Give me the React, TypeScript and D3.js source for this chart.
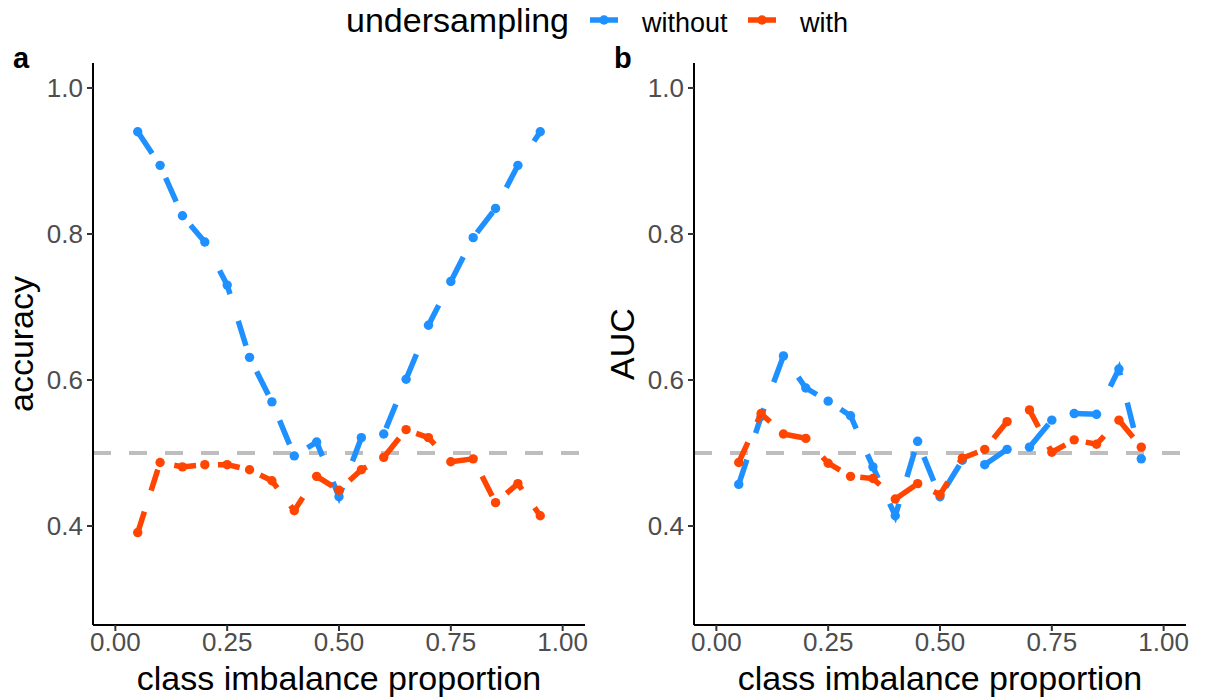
import React from "react";
import * as d3 from "d3";

const proportions = [0.05, 0.1, 0.15, 0.2, 0.25, 0.3, 0.35, 0.4, 0.45, 0.5, 0.55, 0.6, 0.65, 0.7, 0.75, 0.8, 0.85, 0.9, 0.95];

const accWithout = [0.94, 0.894, 0.825, 0.789, 0.73, 0.631, 0.57, 0.496, 0.515, 0.44, 0.521, 0.526, 0.601, 0.675, 0.735, 0.795, 0.835, 0.894, 0.94];
const accWith = [0.391, 0.487, 0.481, 0.484, 0.484, 0.477, 0.462, 0.421, 0.468, 0.449, 0.477, 0.494, 0.532, 0.521, 0.488, 0.492, 0.432, 0.458, 0.414];

const aucWithout = [0.457, 0.55, 0.633, 0.589, 0.571, 0.551, 0.481, 0.414, 0.516, 0.44, 0.49, 0.484, 0.505, 0.508, 0.545, 0.554, 0.553, 0.615, 0.492];
const aucWith = [0.487, 0.554, 0.526, 0.52, 0.486, 0.468, 0.465, 0.437, 0.458, 0.443, 0.493, 0.505, 0.543, 0.559, 0.501, 0.518, 0.512, 0.545, 0.508];

const xTicks = [0, 0.25, 0.5, 0.75, 1.0];
const xTickLabels = ["0.00", "0.25", "0.50", "0.75", "1.00"];
const yTicks = [0.4, 0.6, 0.8, 1.0];
const yTickLabels = ["0.4", "0.6", "0.8", "1.0"];

const seriesNames = ["without", "with"];
const seriesColors = ["#1E90FF", "#FF4500"];
const seriesDash = ["26 28", "22 22"];

const FONT = "'Liberation Sans', Arial, Helvetica, sans-serif";

type PanelProps = {
  left: number;
  label: string;
  yTitle: string;
  without: number[];
  withU: number[];
};

const TOP = 63;
const BOTTOM = 625;
const WIDTH = 492;

function Panel({ left, label, yTitle, without, withU }: PanelProps) {
  const x = d3.scaleLinear().domain([-0.05, 1.05]).range([left, left + WIDTH]);
  const y = d3.scaleLinear().domain([0.2644, 1.0342]).range([BOTTOM, TOP]);
  const line = d3
    .line<[number, number]>()
    .x((d) => x(d[0]))
    .y((d) => y(d[1]));
  const series = [without, withU];
  return (
    <g>
      <line
        x1={left}
        x2={left + WIDTH}
        y1={y(0.5)}
        y2={y(0.5)}
        stroke="#BEBEBE"
        strokeWidth={4}
        strokeDasharray="18 18"
      />
      {series.map((vals, si) => {
        const pts = proportions.map((p, i) => [p, vals[i]] as [number, number]);
        return (
          <g key={si}>
            <path
              d={line(pts) || ""}
              fill="none"
              stroke={seriesColors[si]}
              strokeWidth={5.5}
              strokeDasharray={seriesDash[si]}
              strokeLinecap="butt"
            />
            {pts.map((d, i) => (
              <circle key={i} cx={x(d[0])} cy={y(d[1])} r={4.7} fill={seriesColors[si]} />
            ))}
          </g>
        );
      })}
      <line x1={left} x2={left} y1={TOP} y2={BOTTOM} stroke="#000" strokeWidth={2} />
      <line x1={left} x2={left + WIDTH} y1={BOTTOM} y2={BOTTOM} stroke="#000" strokeWidth={2} />
      {yTicks.map((t, i) => (
        <g key={i}>
          <line x1={left - 6} x2={left} y1={y(t)} y2={y(t)} stroke="#333" strokeWidth={2} />
          <text
            x={left - 10}
            y={y(t)}
            textAnchor="end"
            dominantBaseline="central"
            fontSize={26}
            fill="#4D4D4D"
            fontFamily={FONT}
          >
            {yTickLabels[i]}
          </text>
        </g>
      ))}
      {xTicks.map((t, i) => (
        <g key={i}>
          <line x1={x(t)} x2={x(t)} y1={BOTTOM} y2={BOTTOM + 6} stroke="#333" strokeWidth={2} />
          <text
            x={x(t)}
            y={BOTTOM + 26}
            textAnchor="middle"
            fontSize={26}
            fill="#4D4D4D"
            fontFamily={FONT}
          >
            {xTickLabels[i]}
          </text>
        </g>
      ))}
      <text
        x={left + WIDTH / 2}
        y={690}
        textAnchor="middle"
        fontSize={34}
        fill="#000"
        fontFamily={FONT}
      >
        class imbalance proportion
      </text>
      <text
        transform={`translate(${left - 60}, ${(TOP + BOTTOM) / 2}) rotate(-90)`}
        textAnchor="middle"
        fontSize={34}
        fill="#000"
        fontFamily={FONT}
      >
        {yTitle}
      </text>
      <text
        x={left - 80}
        y={68}
        fontSize={29}
        fontWeight="bold"
        fill="#000"
        fontFamily={FONT}
      >
        {label}
      </text>
    </g>
  );
}

export default function App() {
  const keyX = [590, 748];
  return (
    <svg width={1206} height={700} style={{ position: "absolute", left: 0, top: 0, background: "#fff" }}>
      <rect x={0} y={0} width={1206} height={700} fill="#fff" />
      <text x={346} y={32} fontSize={34} fill="#000" fontFamily={FONT}>
        undersampling
      </text>
      {seriesNames.map((name, i) => {
        const kx = keyX[i];
        return (
          <g key={name}>
            <line x1={kx} x2={kx + 28} y1={20} y2={20} stroke={seriesColors[i]} strokeWidth={5.5} />
            <circle cx={kx + 14} cy={20} r={4.7} fill={seriesColors[i]} />
            <text x={kx + 52} y={32} fontSize={27} fill="#000" fontFamily={FONT}>
              {name}
            </text>
          </g>
        );
      })}
      <Panel left={93} label="a" yTitle="accuracy" without={accWithout} withU={accWith} />
      <Panel left={694} label="b" yTitle="AUC" without={aucWithout} withU={aucWith} />
    </svg>
  );
}
